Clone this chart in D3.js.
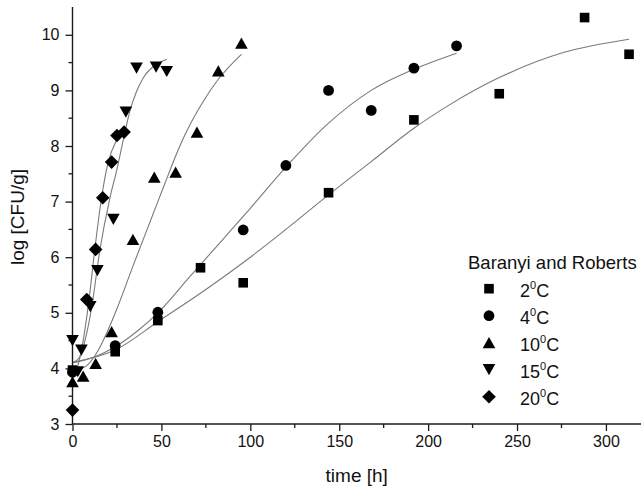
<!DOCTYPE html>
<html>
<head>
<meta charset="utf-8">
<script src="https://cdn.jsdelivr.net/npm/d3@7"></script>
<style>
html,body{margin:0;padding:0;background:#fff;}
svg{display:block;}
text{font-family:"Liberation Sans",Arial,Helvetica,sans-serif;fill:#111;}
</style>
</head>
<body>
<svg id="chart" width="641" height="489"></svg>
<script>
// ---------- data ----------
const xTicks = [0, 50, 100, 150, 200, 250, 300];
const yTicks = [3, 4, 5, 6, 7, 8, 9, 10];

// measured points: time [h] and log [CFU/g]
const t2C  = [0, 24, 48, 72, 96, 144, 192, 240, 288, 313];
const y2C  = [3.97, 4.30, 4.86, 5.81, 5.54, 7.16, 8.47, 8.94, 10.31, 9.65];
const t4C  = [0, 24, 48, 96, 120, 144, 168, 192, 216];
const y4C  = [3.93, 4.41, 5.01, 6.49, 7.65, 9.00, 8.64, 9.40, 9.80];
const t10C = [0, 6, 13, 22, 34, 46, 58, 70, 82, 95];
const y10C = [3.76, 3.86, 4.09, 4.66, 6.32, 7.44, 7.53, 8.25, 9.35, 9.85];
const t15C = [0, 3, 5, 10, 14, 23, 30, 36, 47, 53];
const y15C = [4.50, 3.94, 4.33, 5.11, 5.76, 6.68, 8.61, 9.40, 9.42, 9.34];
const t20C = [0, 8, 13, 17, 22, 25, 29];
const y20C = [3.25, 5.24, 6.14, 7.07, 7.71, 8.19, 8.25];

// fitted Baranyi and Roberts curves
const fit2T  = [0, 24, 48, 75, 100, 120, 144, 168, 192, 212, 240, 276, 313];
const fit2Y  = [4.11, 4.33, 4.84, 5.42, 6.00, 6.50, 7.12, 7.72, 8.32, 8.74, 9.23, 9.68, 9.92];
const fit4T  = [0, 12, 24, 36, 48, 66, 84, 100, 120, 144, 168, 192, 216];
const fit4Y  = [4.10, 4.20, 4.39, 4.66, 5.00, 5.65, 6.30, 6.88, 7.62, 8.41, 9.00, 9.38, 9.67];
const fit10T = [0, 8, 14, 19, 24.7, 34, 45, 52, 57.5, 64, 73.5, 82, 95];
const fit10Y = [3.95, 4.05, 4.30, 4.62, 5.05, 5.84, 6.75, 7.33, 7.78, 8.25, 8.80, 9.20, 9.65];
const fit15T = [0, 4, 7, 10.7, 15.4, 21, 25, 28.5, 32.2, 36, 39.7, 47.2, 53];
const fit15Y = [4.10, 4.20, 4.50, 5.08, 6.13, 7.06, 7.58, 8.10, 8.62, 8.98, 9.22, 9.47, 9.56];
const fit20T = [0, 3, 6, 8.8, 12.5, 16.3, 20, 24.7, 29.5];
const fit20Y = [3.90, 4.05, 4.50, 5.11, 6.13, 7.06, 7.70, 8.10, 8.30];

const legendTitle = "Baranyi and Roberts";
const legendLabels = ["2", "4", "10", "15", "20"];
const symbolNames = ["square", "circle", "triangleUp", "triangleDown", "diamond"];

// ---------- drawing ----------
const svg = d3.select("#chart");
const x = d3.scaleLinear().domain([0, 320]).range([72.5, 641.5]);
const y = d3.scaleLinear().domain([3, 10.5]).range([424, 7]);

const axisColor = "#1a1a1a";

function symbolPath(name) {
  switch (name) {
    case "square": { const s = 4.8; return `M${-s},${-s}H${s}V${s}H${-s}Z`; }
    case "circle": { const r = 5.4; return `M${r},0A${r},${r} 0 1,1 ${-r},0A${r},${r} 0 1,1 ${r},0Z`; }
    case "triangleUp": { const w = 6.3, h = 5.6; return `M0,${-h}L${w},${h}L${-w},${h}Z`; }
    case "triangleDown": { const w = 6.3, h = 5.6; return `M0,${h}L${w},${-h}L${-w},${-h}Z`; }
    case "diamond": { const d = 6.8; return `M0,${-d}L${d},0L0,${d}L${-d},0Z`; }
  }
}

// fitted curves
const fits = [[fit2T, fit2Y], [fit4T, fit4Y], [fit10T, fit10Y], [fit15T, fit15Y], [fit20T, fit20Y]];
const line = d3.line().x(d => x(d[0])).y(d => y(d[1])).curve(d3.curveMonotoneX);
const gFit = svg.append("g");
fits.forEach(([tt, yy]) => {
  gFit.append("path")
    .datum(tt.map((t, i) => [t, yy[i]]))
    .attr("d", line)
    .attr("fill", "none")
    .attr("stroke", "#7a7a7a")
    .attr("stroke-width", 1.1);
});

// axes
const xAxis = d3.axisBottom(x).tickValues(xTicks).tickSize(7).tickPadding(5).tickSizeOuter(0);
const gx = svg.append("g").attr("transform", `translate(0,${y(3)})`).call(xAxis);
const yAxis = d3.axisLeft(y).tickValues(yTicks).tickSize(7).tickPadding(6).tickSizeOuter(0);
const gy = svg.append("g").attr("transform", `translate(${x(0)},0)`).call(yAxis);

[gx, gy].forEach(g => {
  g.select(".domain").attr("stroke", axisColor).attr("stroke-width", 1.4);
  g.selectAll(".tick line").attr("stroke", axisColor).attr("stroke-width", 1.3);
  g.selectAll(".tick text").style("font-family", '"Liberation Sans",Arial,sans-serif')
    .style("font-size", "16px").attr("fill", "#111");
});
gx.select(".domain").attr("d", `M${x(0)},0H641`);
gy.select(".domain").attr("d", `M0,${y(3)}V${y(10.5)}`);

// minor ticks
const xMinor = d3.range(25, 320, 50);
gx.selectAll(".minor").data(xMinor).enter().append("line")
  .attr("x1", d => x(d)).attr("x2", d => x(d)).attr("y1", 0).attr("y2", 4)
  .attr("stroke", axisColor).attr("stroke-width", 1.3);
const yMinor = d3.range(3.5, 10.5, 1);
gy.selectAll(".minor").data(yMinor).enter().append("line")
  .attr("y1", d => y(d)).attr("y2", d => y(d)).attr("x1", 0).attr("x2", -4)
  .attr("stroke", axisColor).attr("stroke-width", 1.3);

// markers
const series = [[t2C, y2C], [t4C, y4C], [t10C, y10C], [t15C, y15C], [t20C, y20C]];
const gPts = svg.append("g");
series.forEach(([tt, yy], si) => {
  gPts.selectAll(null).data(tt.map((t, i) => [t, yy[i]])).enter().append("path")
    .attr("d", symbolPath(symbolNames[si]))
    .attr("transform", d => `translate(${x(d[0])},${y(d[1])})`)
    .attr("fill", "#000");
});

// axis titles
svg.append("text")
  .attr("x", (x(0) + 641) / 2).attr("y", 482)
  .attr("text-anchor", "middle").style("font-size", "19px")
  .text("time [h]");
svg.append("text")
  .attr("transform", "translate(24,217) rotate(-90)")
  .attr("text-anchor", "middle").style("font-size", "19px")
  .text("log [CFU/g]");

// legend
const lg = svg.append("g");
lg.append("text").attr("x", 468).attr("y", 268.5).style("font-size", "18.5px").text(legendTitle);
const legendY = d3.scalePoint().domain(legendLabels).range([288.7, 396.7]);
legendLabels.forEach((lab, i) => {
  const cy = legendY(lab);
  lg.append("path").attr("d", symbolPath(symbolNames[i]))
    .attr("transform", `translate(489,${cy})`).attr("fill", "#000");
  const t = lg.append("text").attr("x", 520).attr("y", cy + 8).style("font-size", "18px");
  t.append("tspan").text(lab);
  t.append("tspan").attr("dy", -7.5).style("font-size", "11px").text("0");
  t.append("tspan").attr("dy", 7.5).text("C");
});
</script>
</body>
</html>
